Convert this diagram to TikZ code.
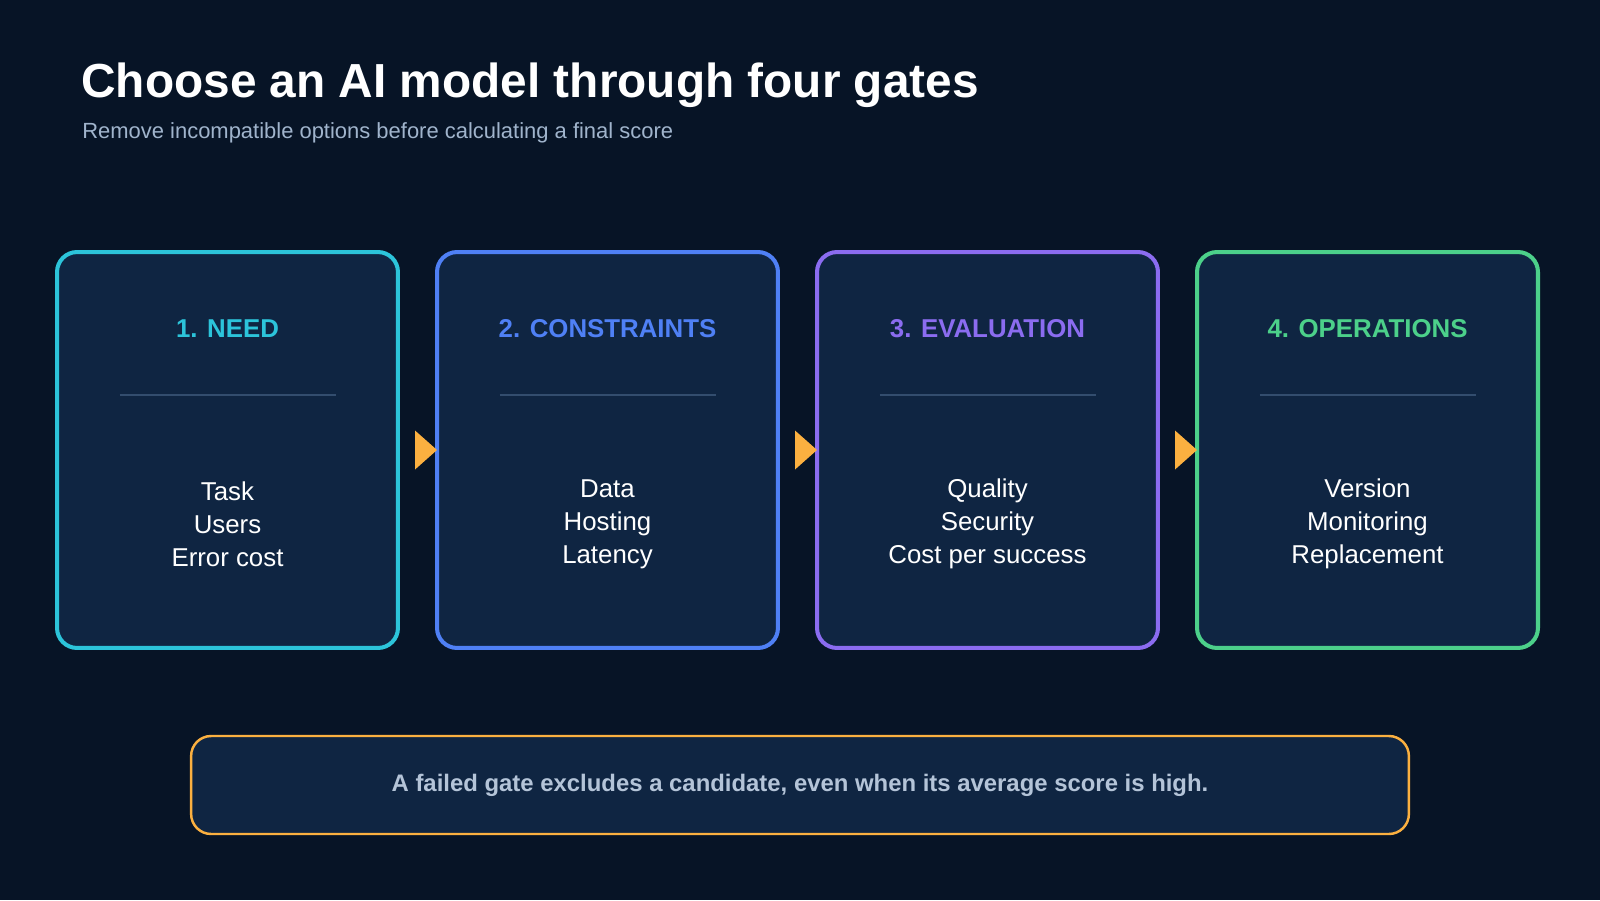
\documentclass[tikz,border=0pt]{standalone}
\usepackage{fontspec}
\setmainfont{Liberation Sans}
\usetikzlibrary{positioning, calc}
\definecolor{bgc}{HTML}{071426}
\definecolor{boxc}{HTML}{0F2542}
\definecolor{needc}{HTML}{2CC4DA}
\definecolor{consc}{HTML}{4F80F5}
\definecolor{evalc}{HTML}{8B6CF0}
\definecolor{opsc}{HTML}{4CD08A}
\definecolor{gatec}{HTML}{FBB040}
\definecolor{sepc}{HTML}{334D6E}
\definecolor{subc}{HTML}{A0B4CC}
\definecolor{notec}{HTML}{B4C4D8}
\tikzset{
  gate/.style={rectangle, rounded corners=0.4cm, line width=2.3pt, fill=boxc, minimum width=6.82cm, minimum height=7.92cm, draw=#1},
  head/.style={font=\fontsize{14.7}{17}\selectfont\bfseries, text=#1},
  items/.style={align=center, text=white, font=\fontsize{14.7}{18.7}\selectfont},
  sep/.style={draw=sepc, line width=1.2pt},
}
\begin{document}
\begin{tikzpicture}[x=0.02cm, y=-0.02cm]
    \fill[bgc] (0,0) rectangle (1600,900);
    \useasboundingbox (0,0) rectangle (1600,900);
    \node (title) [anchor=base west, text=white, font=\fontsize{27.2}{30}\selectfont\bfseries, inner sep=0] at (81,97) {Choose an AI model through four gates};
    \node (sub) [anchor=base west, text=subc, font=\fontsize{12.5}{15}\selectfont, inner sep=0] at (82,138) {Remove incompatible options before calculating a final score};
    % the four gates
    \foreach \i/\x/\c/\h/\t in {1/227.5/needc/1. NEED/{Task\\Users\\Error cost},
                                 2/607.5/consc/2. CONSTRAINTS/{Data\\Hosting\\Latency},
                                 3/987.5/evalc/3. EVALUATION/{Quality\\Security\\Cost per success},
                                 4/1367.5/opsc/4. OPERATIONS/{Version\\Monitoring\\Replacement}} {
        \node (b\i) [gate=\c] at (\x,450) {};
        \node (h\i) [head=\c] at (\x,329) {\h};
        \draw[sep] (\x-108,395) -- (\x+108,395);
        \node (l\i) [items] at (\x,524) {\t};
    }
    \foreach \i/\j in {1/2, 2/3, 3/4}
        \fill[gatec] ($(b\j.west)+(-20,-19.5)$) -- ($(b\j.west)+(2,0)$) -- ($(b\j.west)+(-20,19.5)$) -- cycle;
    % note
    \node (note) [rectangle, rounded corners=0.4cm, draw=gatec, line width=1.4pt, fill=boxc, minimum width=24.36cm, minimum height=1.96cm, text=notec, font=\fontsize{13.6}{16}\selectfont\bfseries] at (800,785) {A failed gate excludes a candidate, even when its average score is high.};
\end{tikzpicture}
\end{document}
